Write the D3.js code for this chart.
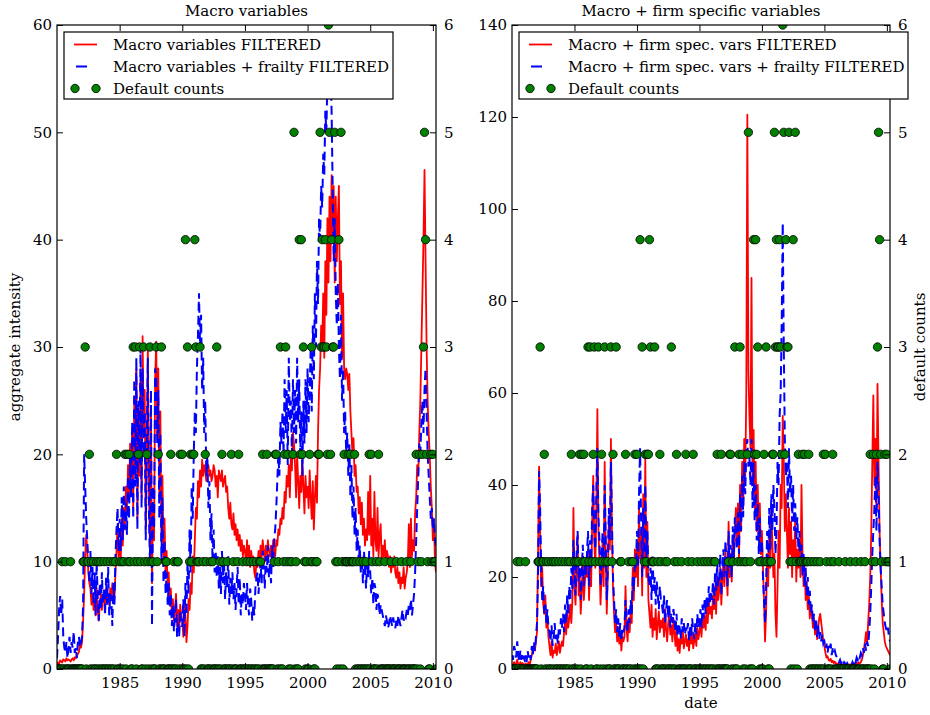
<!DOCTYPE html>
<html>
<head>
<meta charset="utf-8">
<script src="https://cdn.jsdelivr.net/npm/d3@7"></script>
<style>
  body { margin: 0; background: #fff; }
  svg text { font-family: "DejaVu Serif", serif; font-size: 15px; fill: #000; }
</style>
</head>
<body>
<svg id="chart" width="930" height="715"></svg>
<script>
// monthly series, Jan 1980 .. Apr 2010
const startYear = 1980;
const yearTicks = [1985, 1990, 1995, 2000, 2005, 2010];
const macroTicks = [0, 10, 20, 30, 40, 50, 60];
const firmTicks = [0, 20, 40, 60, 80, 100, 120, 140];
const countTicks = [0, 1, 2, 3, 4, 5, 6];

const macroFiltered = [
  0.4,0.6,0.5,0.8,0.7,0.6,0.9,0.8,0.7,1.0,0.8,0.9,
  0.8,0.7,0.9,1.0,0.8,1.1,1.0,1.2,1.4,1.6,2.2,2.0,
  2.5,4.5,7.0,10.5,12.5,11.0,9.0,8.0,7.5,6.0,7.0,5.5,
  6.5,5.0,7.5,5.5,4.5,6.0,7.0,5.5,6.5,7.0,6.0,7.5,
  6.5,7.0,6.0,7.5,6.5,8.0,7.0,6.5,9.0,11.0,13.5,10.5,
  12.0,10.0,14.0,11.5,15.0,13.0,17.0,14.5,19.0,16.0,21.0,18.0,
  22.0,15.0,25.0,19.0,28.0,14.0,24.0,18.0,27.0,16.0,31.0,22.0,
  26.0,13.0,20.0,30.0,17.0,11.0,24.0,8.0,15.0,12.0,27.0,30.5,
  22.0,28.0,16.0,24.0,12.0,18.0,10.0,14.0,9.0,11.0,7.5,9.0,
  6.0,7.5,5.0,6.5,4.5,5.5,7.0,4.0,5.5,3.5,6.0,5.0,
  4.5,3.0,6.0,5.0,2.5,4.0,6.5,5.5,8.0,7.0,10.5,9.0,
  12.0,15.0,14.0,17.5,16.0,18.5,17.0,19.5,18.0,19.0,18.5,17.5,
  18.5,19.0,18.0,18.5,17.5,18.0,19.0,18.5,17.0,18.0,16.0,18.5,
  18.0,17.5,18.5,17.0,17.5,18.0,16.5,17.0,15.0,14.0,15.5,13.5,
  13.0,14.5,12.5,13.5,12.0,13.0,11.5,12.5,11.0,12.0,10.5,11.5,
  11.0,10.0,12.0,10.5,11.5,9.5,11.0,10.0,10.5,9.0,8.5,10.0,
  9.5,11.0,10.0,11.5,10.5,12.0,11.0,10.0,11.5,10.5,12.0,11.0,
  10.5,11.5,10.0,12.0,11.0,10.5,12.0,11.5,13.0,12.5,14.0,13.5,
  15.0,14.0,16.5,15.5,18.0,17.0,19.0,16.0,20.0,18.5,22.0,21.0,
  19.0,16.0,20.0,17.5,15.0,18.0,16.5,19.5,17.0,14.5,18.0,16.0,
  17.0,15.0,18.5,16.0,14.0,17.5,13.0,16.0,18.0,15.5,22.0,26.0,
  28.0,32.0,30.0,35.0,29.0,38.0,33.0,42.0,36.0,44.0,38.0,46.0,
  40.0,45.0,36.0,44.0,38.0,42.0,45.0,34.0,38.0,29.0,35.0,28.0,
  27.0,28.0,27.5,26.0,27.5,24.0,22.0,20.0,21.5,18.0,19.0,16.5,
  17.0,14.5,16.0,13.5,15.5,12.5,14.0,11.5,13.0,12.0,16.5,12.5,
  18.0,11.5,14.0,10.5,16.5,12.0,11.0,15.0,10.5,12.5,13.5,10.0,
  11.5,10.5,12.0,10.0,11.0,10.5,9.5,10.5,9.0,10.0,9.5,10.5,
  9.0,8.5,9.5,8.0,9.0,7.5,8.5,8.0,9.5,7.5,8.5,9.0,
  10.0,13.5,9.5,14.0,10.5,12.0,11.0,14.5,16.0,19.0,18.0,22.0,
  25.0,30.0,35.0,40.0,46.5,38.0,30.0,25.0,22.0,20.0,17.0,15.0,
  12.0,14.0,10.0,9.0
];

const macroFrailty = [
  1.0,3.0,5.5,6.8,5.0,6.5,3.0,2.0,1.5,2.5,1.0,2.0,
  3.0,1.5,2.5,2.0,3.5,1.5,2.0,1.0,2.5,3.0,2.0,2.5,
  3.0,6.0,20.0,17.0,14.0,12.0,10.0,8.0,11.0,7.0,9.5,6.0,
  9.0,5.0,10.0,6.5,4.5,8.0,5.5,9.0,6.0,7.5,5.0,8.5,
  6.0,9.5,5.0,7.0,6.5,4.0,8.0,6.0,10.5,13.0,15.0,11.0,
  14.0,11.0,16.0,12.0,17.0,13.0,15.5,12.5,18.0,14.0,20.0,16.0,
  23.0,14.0,27.0,17.0,29.0,13.0,25.0,19.0,30.0,15.0,28.0,20.0,
  24.0,12.0,21.0,29.0,15.0,10.0,26.0,4.0,17.0,13.0,28.0,27.0,
  21.0,26.0,14.0,22.0,10.0,16.0,8.0,12.0,7.0,9.0,6.0,8.0,
  5.0,7.0,4.0,6.0,3.5,5.0,6.5,3.0,4.5,3.0,5.5,4.0,
  4.0,6.5,3.0,8.0,5.0,10.0,7.0,13.0,9.0,17.0,14.0,20.0,
  24.0,22.0,28.0,31.0,35.0,30.0,33.0,26.0,29.0,22.0,25.0,18.0,
  20.0,15.0,17.5,12.0,14.5,10.0,13.0,9.0,11.0,8.5,10.5,7.5,
  9.5,7.0,11.0,8.0,10.0,6.5,9.0,7.5,10.5,6.0,8.5,7.0,
  9.0,6.5,8.0,5.5,7.5,9.5,6.0,8.5,5.0,7.0,6.0,8.0,
  7.0,5.5,8.0,6.0,5.0,7.5,6.5,4.5,6.0,5.0,7.5,8.5,
  9.0,7.0,8.5,10.0,8.0,11.0,9.5,7.5,10.5,9.0,11.5,8.5,
  10.0,8.0,11.5,9.5,12.0,13.0,15.0,17.5,20.0,18.0,23.0,21.0,
  24.0,20.0,27.0,22.0,26.0,19.0,29.0,23.0,25.0,20.0,27.0,22.0,
  26.0,21.0,29.0,23.0,27.0,20.0,24.0,18.0,25.0,21.0,27.0,22.0,
  28.0,23.0,26.0,30.0,24.0,32.0,27.0,35.0,30.0,38.0,34.0,42.0,
  40.0,45.0,43.0,48.0,46.0,52.0,50.0,55.0,57.0,59.0,56.0,52.0,
  45.0,38.0,42.0,35.0,32.0,36.0,30.0,27.0,33.0,25.0,28.0,22.0,
  24.0,20.0,22.0,18.0,21.0,16.0,19.0,14.0,17.0,12.5,15.0,11.0,
  13.0,10.0,11.5,9.0,10.5,8.0,11.0,9.5,7.5,10.0,8.5,11.0,
  9.0,7.0,8.5,6.0,8.0,7.5,5.5,7.0,6.5,5.0,6.0,5.5,
  5.0,4.5,4.0,5.0,4.5,3.8,4.2,5.0,4.5,4.0,4.8,4.2,
  3.8,4.5,4.0,5.0,4.5,4.0,4.8,5.5,4.5,5.0,4.8,5.5,
  5.0,6.0,5.5,6.5,5.0,6.0,7.0,9.0,12.0,15.0,18.0,21.0,
  20.0,23.0,25.0,22.0,26.0,28.0,24.0,20.0,18.0,16.0,14.0,15.0,
  13.0,14.0,12.0,11.5
];

const firmFiltered = [
  0.5,1.0,1.5,0.8,1.2,2.0,1.0,0.6,1.5,0.9,1.3,1.0,
  0.8,1.2,0.7,1.0,1.5,0.9,2.0,3.0,4.5,5.0,4.0,6.0,
  8.0,25.0,44.0,30.0,18.0,22.0,14.0,12.0,16.0,9.0,11.0,7.0,
  5.0,3.0,6.0,2.5,4.0,3.5,5.5,3.0,4.5,6.0,3.5,5.0,
  6.0,5.0,8.0,10.0,7.5,12.0,9.0,11.0,14.0,10.0,15.0,35.0,
  18.0,14.0,22.0,29.0,16.0,20.0,12.0,17.0,24.0,15.0,19.0,22.0,
  20.0,26.0,15.0,23.0,18.0,32.0,42.0,28.0,22.0,35.0,56.5,30.0,
  24.0,14.0,20.0,28.0,18.0,45.0,25.0,12.0,20.0,32.0,26.0,50.0,
  30.0,18.0,12.0,8.0,10.0,6.0,9.0,5.5,8.0,4.0,7.0,6.0,
  7.0,18.0,9.0,6.0,11.0,8.0,13.0,10.0,22.0,15.0,26.0,20.0,
  28.0,18.0,35.0,24.0,30.0,16.0,38.0,22.0,46.0,20.0,32.0,15.0,
  12.0,9.0,14.0,7.0,11.0,8.5,13.0,6.5,10.0,12.5,8.0,10.5,
  9.0,11.0,7.0,13.0,8.5,6.0,10.0,12.0,7.5,9.5,6.0,11.0,
  8.0,5.0,9.0,4.0,6.5,3.5,7.0,5.5,8.5,4.5,6.0,7.5,
  5.0,6.5,4.0,7.0,5.5,8.0,4.5,6.0,7.5,5.0,9.0,6.5,
  8.0,10.0,7.0,12.0,9.0,11.5,8.5,14.0,10.0,15.0,12.0,13.5,
  11.0,16.0,13.0,18.0,12.0,20.0,15.0,17.0,22.0,14.0,19.0,24.0,
  18.0,26.0,21.0,16.0,32.0,20.0,25.0,19.0,28.0,23.0,30.0,35.0,
  28.0,36.0,24.0,40.0,30.0,45.0,35.0,50.0,42.0,60.0,120.5,65.0,
  55.0,48.0,85.0,40.0,52.0,35.0,45.0,30.0,40.0,28.0,36.0,25.0,
  30.0,22.0,15.0,6.0,12.0,25.0,18.0,30.0,22.0,35.0,28.0,20.0,
  25.0,12.0,7.0,18.0,30.0,22.0,40.0,35.0,55.0,45.0,30.0,38.0,
  30.0,22.0,35.0,25.0,32.0,20.0,28.0,24.0,33.0,19.0,26.0,22.0,
  28.0,20.0,40.0,25.0,18.0,22.0,15.0,19.0,13.0,16.0,11.0,14.0,
  12.0,9.0,11.0,7.5,10.0,6.5,9.0,11.0,12.0,10.0,8.0,6.0,
  5.0,3.5,2.5,2.8,2.0,1.8,2.2,1.5,1.8,1.3,1.6,1.2,
  1.2,1.0,1.3,0.9,1.1,1.0,0.8,1.2,1.0,0.9,1.1,1.0,
  0.9,1.0,0.8,1.1,1.0,1.2,0.9,1.3,1.1,1.4,1.2,1.5,
  2.0,3.0,4.5,6.0,8.0,5.5,10.0,14.0,20.0,30.0,45.0,59.5,
  40.0,50.0,35.0,62.0,45.0,30.0,22.0,15.0,10.0,8.0,6.0,5.0,
  4.5,4.0,3.5,3.0
];

const firmFrailty = [
  3.0,2.0,5.0,4.0,2.5,6.0,3.0,1.5,4.0,2.0,3.5,2.5,
  2.0,3.0,1.5,4.0,2.5,3.5,2.0,5.0,3.0,6.0,4.0,7.0,
  10.0,20.0,43.0,35.0,22.0,15.0,18.0,12.0,14.0,10.0,13.0,9.0,
  8.0,6.0,9.5,5.0,7.0,10.0,6.5,8.0,5.5,9.0,7.5,11.0,
  9.0,12.0,8.0,14.0,10.0,16.0,12.0,18.0,15.0,22.0,17.0,28.0,
  22.0,16.0,25.0,30.0,19.0,24.0,15.0,21.0,27.0,18.0,23.0,20.0,
  25.0,30.0,18.0,28.0,22.0,35.0,40.0,30.0,26.0,38.0,48.0,33.0,
  28.0,18.0,24.0,30.0,22.0,40.0,28.0,15.0,22.0,35.0,28.0,45.0,
  32.0,20.0,15.0,10.0,13.0,8.0,11.0,7.0,10.0,6.0,9.0,8.0,
  9.0,15.0,11.0,8.0,13.0,10.0,15.0,12.0,20.0,17.0,24.0,22.0,
  30.0,22.0,38.0,48.0,32.0,20.0,35.0,25.0,40.0,24.0,30.0,20.0,
  18.0,22.0,15.0,25.0,17.0,20.0,14.0,19.0,16.0,13.0,18.0,15.0,
  14.0,12.0,16.0,10.0,13.0,15.0,11.0,14.0,9.0,12.0,10.0,13.0,
  11.0,8.0,12.0,7.0,10.0,9.0,6.5,11.0,8.0,10.0,7.5,9.0,
  8.0,10.0,6.0,9.5,7.0,11.0,8.5,6.5,10.0,7.5,12.0,9.0,
  10.0,13.0,9.0,14.0,11.0,15.0,12.0,16.0,13.0,18.0,14.0,17.0,
  15.0,19.0,14.0,21.0,17.0,23.0,18.0,20.0,25.0,16.0,22.0,26.0,
  20.0,28.0,23.0,18.0,30.0,22.0,27.0,20.0,31.0,24.0,33.0,29.0,
  26.0,34.0,25.0,38.0,30.0,42.0,33.0,45.0,38.0,48.0,50.0,44.0,
  46.0,40.0,50.0,35.0,45.0,32.0,40.0,28.0,36.0,25.0,33.0,22.0,
  28.0,20.0,15.0,10.0,18.0,30.0,22.0,35.0,26.0,38.0,30.0,40.0,
  35.0,25.0,30.0,45.0,40.0,55.0,60.0,75.0,97.0,70.0,50.0,42.0,
  45.0,35.0,48.0,38.0,42.0,32.0,40.0,30.0,36.0,28.0,33.0,26.0,
  30.0,22.0,27.0,20.0,25.0,18.0,22.0,16.0,20.0,14.0,17.0,12.0,
  14.0,10.0,12.0,8.0,11.0,7.0,9.5,6.5,8.0,6.0,7.5,5.5,
  6.0,4.5,5.5,3.5,5.0,4.0,5.5,3.0,4.5,3.5,4.0,3.0,
  2.5,2.0,1.5,2.0,1.2,1.8,1.0,1.5,1.2,0.8,1.3,1.0,
  0.9,1.2,0.8,1.5,1.0,2.0,1.5,2.5,2.0,3.0,2.5,3.5,
  3.0,4.5,3.5,5.5,4.0,6.0,5.0,8.0,12.0,18.0,25.0,30.0,
  35.0,42.0,30.0,45.0,38.0,28.0,22.0,18.0,14.0,12.0,10.0,9.0,
  8.0,9.0,7.0,6.0
];

const defaultCounts = [
  0,0,0,0,0,1,0,0,1,0,0,0,
  0,1,0,0,0,0,0,0,0,0,0,0,
  0,1,1,3,0,1,1,2,0,1,0,1,
  0,0,1,0,1,0,1,0,0,1,0,0,
  1,0,0,1,0,0,1,0,1,2,0,0,
  1,0,1,0,1,2,0,2,1,2,1,0,
  0,3,1,3,0,1,2,3,1,0,0,3,
  1,0,2,1,0,3,1,0,1,0,0,3,
  1,2,0,0,3,0,0,0,1,1,0,0,
  0,2,0,0,1,0,0,1,1,0,2,0,
  2,0,0,4,0,3,0,1,2,1,2,2,
  4,3,1,1,1,3,0,0,1,0,2,1,
  0,0,0,1,0,1,0,0,0,3,0,0,
  1,0,2,1,0,0,0,1,0,0,0,2,
  0,1,0,0,0,1,2,0,0,0,1,0,
  0,0,1,0,0,1,0,0,1,0,0,1,
  0,0,1,1,0,2,0,0,0,2,0,0,
  0,0,0,0,1,2,2,0,1,0,3,0,
  0,1,2,3,1,2,0,1,0,1,2,5,
  0,1,0,0,4,2,4,2,3,1,0,1,
  0,0,2,1,3,1,0,0,1,1,2,2,
  5,3,4,3,3,4,3,2,6,5,2,4,
  3,3,5,1,0,1,4,0,5,1,0,2,
  1,1,1,2,1,2,1,1,1,2,0,1,
  0,0,1,0,0,1,0,0,1,0,0,2,
  0,2,1,0,0,0,1,0,2,1,0,0,
  0,0,1,0,0,0,0,0,1,0,0,0,
  0,1,0,0,0,0,1,0,0,0,0,1,
  0,0,0,1,0,0,0,0,2,0,1,2,
  0,1,2,3,5,4,2,1,0,0,2,1,
  2,1,1,0
];

const months = d3.range(defaultCounts.length).map(i => startYear + i / 12);

const svg = d3.select("#chart");
const plotTop = 25, plotBottom = 669;

function drawPanel(p) {
  const x = d3.scaleLinear().domain([startYear, 2010.25]).range([p.left, p.right]);
  const y = d3.scaleLinear().domain([0, p.yMax]).range([plotBottom, plotTop]);
  const yc = d3.scaleLinear().domain([0, 6]).range([plotBottom, plotTop]);

  const clipId = "clip-" + p.id;
  svg.append("clipPath").attr("id", clipId)
    .append("rect")
      .attr("x", p.left).attr("y", plotTop)
      .attr("width", p.right - p.left).attr("height", plotBottom - plotTop);

  const g = svg.append("g").attr("clip-path", `url(#${clipId})`);

  const line = d3.line()
    .x((d, i) => x(months[i]))
    .y(d => y(d));

  g.append("path")
    .datum(p.red)
    .attr("d", line)
    .attr("fill", "none")
    .attr("stroke", "#ff0000")
    .attr("stroke-width", 1.8)
    .attr("stroke-linejoin", "round");

  g.append("path")
    .datum(p.blue)
    .attr("d", line)
    .attr("fill", "none")
    .attr("stroke", "#0000ff")
    .attr("stroke-width", 2)
    .attr("stroke-dasharray", "9,5");

  g.selectAll("circle.cnt")
    .data(defaultCounts)
    .join("circle")
      .attr("class", "cnt")
      .attr("cx", (d, i) => x(months[i]))
      .attr("cy", d => yc(d))
      .attr("r", 4.2)
      .attr("fill", "#008000")
      .attr("stroke", "#000")
      .attr("stroke-width", 0.8);

  // axes, ticks pointing inward
  svg.append("g")
    .attr("transform", `translate(0,${plotBottom})`)
    .call(d3.axisBottom(x).tickValues(yearTicks).tickFormat(d3.format("d")).tickSize(-6).tickPadding(8.5))
    .call(a => a.select(".domain").remove());

  svg.append("g")
    .attr("transform", `translate(0,${plotTop})`)
    .call(d3.axisTop(x).tickValues(yearTicks).tickFormat("").tickSize(-6))
    .call(a => a.select(".domain").remove());

  svg.append("g")
    .attr("transform", `translate(${p.left},0)`)
    .call(d3.axisLeft(y).tickValues(p.ticks).tickFormat(d3.format("d")).tickSize(-6).tickPadding(5))
    .call(a => a.select(".domain").remove());

  svg.append("g")
    .attr("transform", `translate(${p.right},0)`)
    .call(d3.axisRight(yc).tickValues(countTicks).tickFormat(d3.format("d")).tickSize(-6).tickPadding(8))
    .call(a => a.select(".domain").remove());

  svg.selectAll(".tick line").attr("stroke", "#000");

  svg.append("rect")
    .attr("x", p.left).attr("y", plotTop)
    .attr("width", p.right - p.left).attr("height", plotBottom - plotTop)
    .attr("fill", "none").attr("stroke", "#000").attr("stroke-width", 1.2);

  svg.append("text")
    .attr("x", (p.left + p.right) / 2).attr("y", 16)
    .attr("text-anchor", "middle")
    .text(p.title);

  // legend
  const lg = svg.append("g");
  lg.append("rect")
    .attr("x", p.legX).attr("y", 32)
    .attr("width", p.legW).attr("height", 67)
    .attr("fill", "#fff").attr("stroke", "#000").attr("stroke-width", 1.2);
  const sx = p.legX + 10;
  lg.append("line").attr("x1", sx).attr("x2", sx + 23).attr("y1", 44.5).attr("y2", 44.5)
    .attr("stroke", "#ff0000").attr("stroke-width", 1.8);
  lg.append("line").attr("x1", sx + 2).attr("x2", sx + 13).attr("y1", 66.5).attr("y2", 66.5)
    .attr("stroke", "#0000ff").attr("stroke-width", 2);
  [sx + 1, sx + 22].forEach(cx => {
    lg.append("circle").attr("cx", cx).attr("cy", 88.5).attr("r", 4.2)
      .attr("fill", "#008000").attr("stroke", "#000").attr("stroke-width", 0.8);
  });
  p.labels.forEach((t, i) => {
    lg.append("text").attr("x", p.legX + 49).attr("y", 49.5 + i * 22).text(t);
  });
}

drawPanel({
  id: "macro", left: 57, right: 436, yMax: 60, ticks: macroTicks,
  title: "Macro variables",
  red: macroFiltered, blue: macroFrailty,
  legX: 64, legW: 329,
  labels: ["Macro variables FILTERED", "Macro variables + frailty FILTERED", "Default counts"]
});

drawPanel({
  id: "firm", left: 512, right: 890, yMax: 140, ticks: firmTicks,
  title: "Macro + firm specific variables",
  red: firmFiltered, blue: firmFrailty,
  legX: 519, legW: 389,
  labels: ["Macro + firm spec. vars FILTERED", "Macro + firm spec. vars + frailty FILTERED", "Default counts"]
});

svg.append("text")
  .attr("transform", "translate(20,347) rotate(-90)")
  .attr("text-anchor", "middle")
  .text("aggregate intensity");

svg.append("text")
  .attr("transform", "translate(925,347) rotate(-90)")
  .attr("text-anchor", "middle")
  .text("default counts");

svg.append("text")
  .attr("x", 701).attr("y", 708)
  .attr("text-anchor", "middle")
  .text("date");
</script>
</body>
</html>
